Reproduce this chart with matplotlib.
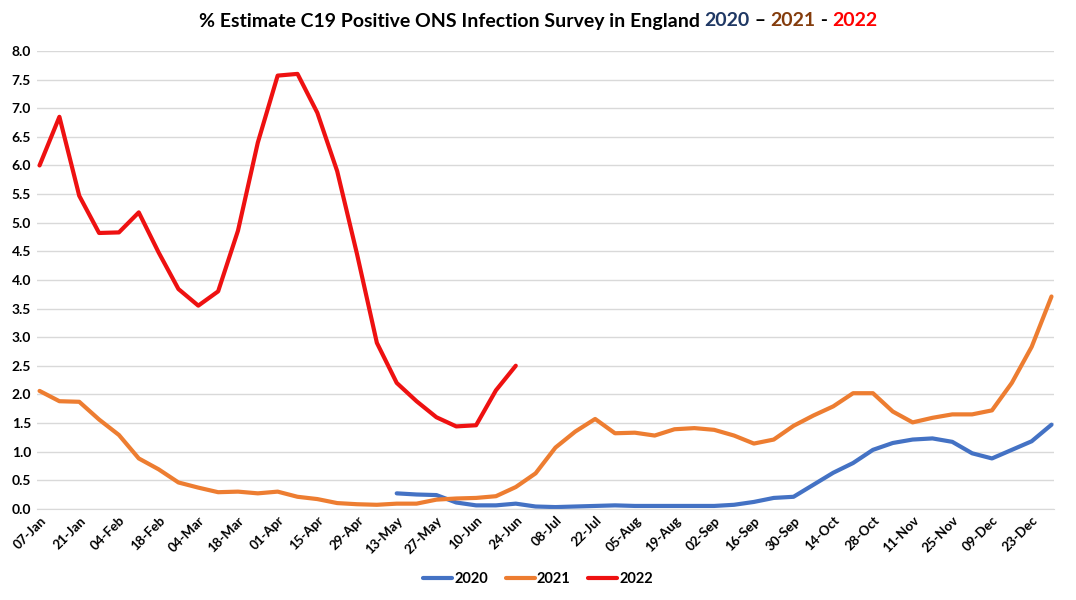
import numpy as np
import matplotlib
matplotlib.use("Agg")
import matplotlib.pyplot as plt

# week labels, one point per week
weeks = ["07-Jan", "14-Jan", "21-Jan", "28-Jan", "04-Feb", "11-Feb", "18-Feb", "25-Feb",
         "04-Mar", "11-Mar", "18-Mar", "25-Mar", "01-Apr", "08-Apr", "15-Apr", "22-Apr",
         "29-Apr", "06-May", "13-May", "20-May", "27-May", "03-Jun", "10-Jun", "17-Jun",
         "24-Jun", "01-Jul", "08-Jul", "15-Jul", "22-Jul", "29-Jul", "05-Aug", "12-Aug",
         "19-Aug", "26-Aug", "02-Sep", "09-Sep", "16-Sep", "23-Sep", "30-Sep", "07-Oct",
         "14-Oct", "21-Oct", "28-Oct", "04-Nov", "11-Nov", "18-Nov", "25-Nov", "02-Dec",
         "09-Dec", "16-Dec", "23-Dec", "30-Dec"]

# 2020 starts at 13-May
y2020_start = 18
y2020 = [0.27, 0.25, 0.24, 0.11, 0.06, 0.06, 0.09, 0.04, 0.03, 0.04,
         0.05, 0.06, 0.05, 0.05, 0.05, 0.05, 0.05, 0.07, 0.12, 0.19,
         0.21, 0.42, 0.63, 0.80, 1.03, 1.15, 1.21, 1.23, 1.17, 0.97,
         0.88, 1.03, 1.18, 1.47]

y2021 = [2.06, 1.88, 1.87, 1.56, 1.29, 0.88, 0.69, 0.46, 0.37, 0.29,
         0.30, 0.27, 0.30, 0.21, 0.17, 0.10, 0.08, 0.07, 0.09, 0.09,
         0.16, 0.18, 0.19, 0.22, 0.38, 0.62, 1.07, 1.35, 1.57, 1.32,
         1.33, 1.28, 1.39, 1.41, 1.38, 1.28, 1.14, 1.21, 1.45, 1.63,
         1.79, 2.02, 2.02, 1.70, 1.51, 1.59, 1.65, 1.65, 1.72, 2.20,
         2.83, 3.71]

y2022 = [6.00, 6.85, 5.47, 4.82, 4.83, 5.18, 4.48, 3.84, 3.55, 3.80,
         4.86, 6.40, 7.57, 7.60, 6.92, 5.90, 4.45, 2.90, 2.20, 1.88,
         1.60, 1.44, 1.46, 2.07, 2.50]

plt.rcParams['font.family'] = ['Lato', 'DejaVu Sans']

fig = plt.figure(figsize=(10.76, 6), dpi=100)
ax = fig.add_axes([0.034, 0.152, 0.946, 0.763])

x = np.arange(len(weeks))
ax.plot(x[y2020_start:y2020_start + len(y2020)], y2020, color="#4472C4", lw=3, label="2020",
        solid_capstyle="round", solid_joinstyle="round")
ax.plot(x[:len(y2021)], y2021, color="#ED7D31", lw=3, label="2021",
        solid_capstyle="round", solid_joinstyle="round")
ax.plot(x[:len(y2022)], y2022, color="#EE1111", lw=3, label="2022",
        solid_capstyle="round", solid_joinstyle="round")

ax.set_xlim(-0.15, len(weeks) - 0.85)
ax.set_ylim(0, 8)
ax.set_yticks(np.arange(0, 8.01, 0.5))
ax.set_yticklabels([f"{v:.1f}" for v in np.arange(0, 8.01, 0.5)], fontsize=10, fontweight="bold")
ax.set_xticks(x[::2])
ax.set_xticklabels(weeks[::2], rotation=45, ha="right", rotation_mode="anchor",
                   fontsize=9.5, fontweight="bold")
ax.tick_params(length=0, pad=4)
ax.grid(axis="y", color="#D9D9D9", lw=1)
ax.set_axisbelow(True)
for s in ["top", "right", "left"]:
    ax.spines[s].set_visible(False)
ax.spines["bottom"].set_color("#D9D9D9")

leg = ax.legend(loc="center", bbox_to_anchor=(0.5, 0.035), bbox_transform=fig.transFigure,
                ncol=3, frameon=False, handlelength=2.0, columnspacing=1.2, handletextpad=0.15,
                prop={"weight": "bold", "size": 10.5})

# multi-coloured title, pieces placed one after another
pieces = [("% Estimate C19 Positive ONS Infection Survey in England ", "black"),
          ("2020", "#1F3864"), (" \u2013 ", "black"), ("2021", "#843C0C"),
          (" - ", "black"), ("2022", "#FF0000")]
renderer = fig.canvas.get_renderer()
texts = []
for s, c in pieces:
    texts.append(fig.text(0, 0.965, s, color=c, fontsize=14, fontweight="bold",
                          va="center", ha="left"))
widths = [t.get_window_extent(renderer).width for t in texts]
total = sum(widths)
xpos = (fig.bbox.width - total) / 2
for t, w in zip(texts, widths):
    t.set_x(xpos / fig.bbox.width)
    xpos += w

fig.savefig("out.png", dpi=100)
